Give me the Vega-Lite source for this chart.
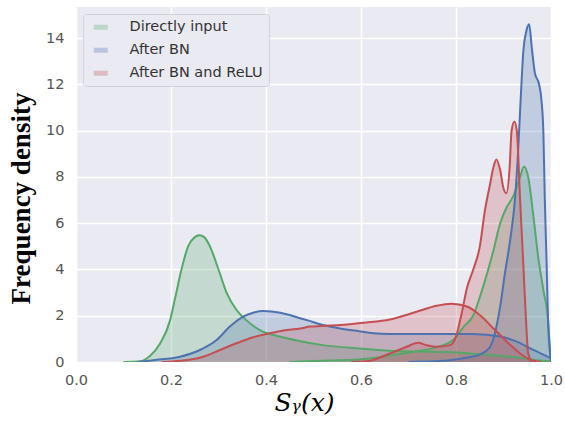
{
  "$schema": "https://vega.github.io/schema/vega-lite/v6.json",
  "width": 475,
  "height": 355,
  "autosize": "none",
  "padding": {"left": 76, "top": 7, "right": 14, "bottom": 59},
  "background": "white",
  "config": {
    "view": {"fill": "#EAEAF2", "stroke": null},
    "axis": {
      "domain": false,
      "ticks": false,
      "gridColor": "white",
      "gridWidth": 1.5,
      "labelFont": "DejaVu Sans",
      "labelFontSize": 14.5,
      "labelColor": "#555555"
    }
  },
  "datasets": {
    "curves": [
      {"series": "Directly input", "curve": "g1", "x": 0.10, "y": 0},
      {"series": "Directly input", "curve": "g1", "x": 0.135, "y": 0.03},
      {"series": "Directly input", "curve": "g1", "x": 0.155, "y": 0.25},
      {"series": "Directly input", "curve": "g1", "x": 0.177, "y": 0.8},
      {"series": "Directly input", "curve": "g1", "x": 0.198, "y": 1.8},
      {"series": "Directly input", "curve": "g1", "x": 0.208, "y": 2.7},
      {"series": "Directly input", "curve": "g1", "x": 0.222, "y": 4.0},
      {"series": "Directly input", "curve": "g1", "x": 0.236, "y": 5.0},
      {"series": "Directly input", "curve": "g1", "x": 0.25, "y": 5.4},
      {"series": "Directly input", "curve": "g1", "x": 0.26, "y": 5.48},
      {"series": "Directly input", "curve": "g1", "x": 0.27, "y": 5.4},
      {"series": "Directly input", "curve": "g1", "x": 0.282, "y": 5.0},
      {"series": "Directly input", "curve": "g1", "x": 0.30, "y": 4.0},
      {"series": "Directly input", "curve": "g1", "x": 0.317, "y": 3.0},
      {"series": "Directly input", "curve": "g1", "x": 0.338, "y": 2.25},
      {"series": "Directly input", "curve": "g1", "x": 0.359, "y": 1.8},
      {"series": "Directly input", "curve": "g1", "x": 0.387, "y": 1.38},
      {"series": "Directly input", "curve": "g1", "x": 0.43, "y": 1.09},
      {"series": "Directly input", "curve": "g1", "x": 0.472, "y": 0.9},
      {"series": "Directly input", "curve": "g1", "x": 0.52, "y": 0.73},
      {"series": "Directly input", "curve": "g1", "x": 0.59, "y": 0.59},
      {"series": "Directly input", "curve": "g1", "x": 0.66, "y": 0.49},
      {"series": "Directly input", "curve": "g1", "x": 0.73, "y": 0.45},
      {"series": "Directly input", "curve": "g1", "x": 0.78, "y": 0.43},
      {"series": "Directly input", "curve": "g1", "x": 0.83, "y": 0.37},
      {"series": "Directly input", "curve": "g1", "x": 0.87, "y": 0.3},
      {"series": "Directly input", "curve": "g1", "x": 0.94, "y": 0.17},
      {"series": "Directly input", "curve": "g1", "x": 0.97, "y": 0.08},
      {"series": "Directly input", "curve": "g1", "x": 1.0, "y": 0.03},
      {"series": "Directly input", "curve": "g2", "x": 0.45, "y": 0},
      {"series": "Directly input", "curve": "g2", "x": 0.5, "y": 0.04},
      {"series": "Directly input", "curve": "g2", "x": 0.6, "y": 0.12},
      {"series": "Directly input", "curve": "g2", "x": 0.682, "y": 0.35},
      {"series": "Directly input", "curve": "g2", "x": 0.72, "y": 0.47},
      {"series": "Directly input", "curve": "g2", "x": 0.752, "y": 0.6},
      {"series": "Directly input", "curve": "g2", "x": 0.794, "y": 0.95},
      {"series": "Directly input", "curve": "g2", "x": 0.815, "y": 1.5},
      {"series": "Directly input", "curve": "g2", "x": 0.836, "y": 2.0},
      {"series": "Directly input", "curve": "g2", "x": 0.857, "y": 3.25},
      {"series": "Directly input", "curve": "g2", "x": 0.879, "y": 4.84},
      {"series": "Directly input", "curve": "g2", "x": 0.893, "y": 6.0},
      {"series": "Directly input", "curve": "g2", "x": 0.907, "y": 6.7},
      {"series": "Directly input", "curve": "g2", "x": 0.92, "y": 7.15},
      {"series": "Directly input", "curve": "g2", "x": 0.935, "y": 8.0},
      {"series": "Directly input", "curve": "g2", "x": 0.943, "y": 8.45},
      {"series": "Directly input", "curve": "g2", "x": 0.952, "y": 8.0},
      {"series": "Directly input", "curve": "g2", "x": 0.963, "y": 6.3},
      {"series": "Directly input", "curve": "g2", "x": 0.973, "y": 4.55},
      {"series": "Directly input", "curve": "g2", "x": 0.984, "y": 3.1},
      {"series": "Directly input", "curve": "g2", "x": 0.994, "y": 1.8},
      {"series": "Directly input", "curve": "g2", "x": 0.997, "y": 0.8},
      {"series": "Directly input", "curve": "g2", "x": 1.0, "y": 0},
      {"series": "After BN", "curve": "b1", "x": 0.13, "y": 0},
      {"series": "After BN", "curve": "b1", "x": 0.163, "y": 0.08},
      {"series": "After BN", "curve": "b1", "x": 0.219, "y": 0.23},
      {"series": "After BN", "curve": "b1", "x": 0.261, "y": 0.52},
      {"series": "After BN", "curve": "b1", "x": 0.296, "y": 0.95},
      {"series": "After BN", "curve": "b1", "x": 0.324, "y": 1.53},
      {"series": "After BN", "curve": "b1", "x": 0.352, "y": 1.96},
      {"series": "After BN", "curve": "b1", "x": 0.373, "y": 2.13},
      {"series": "After BN", "curve": "b1", "x": 0.394, "y": 2.2},
      {"series": "After BN", "curve": "b1", "x": 0.43, "y": 2.13},
      {"series": "After BN", "curve": "b1", "x": 0.45, "y": 2.03},
      {"series": "After BN", "curve": "b1", "x": 0.472, "y": 1.89},
      {"series": "After BN", "curve": "b1", "x": 0.486, "y": 1.81},
      {"series": "After BN", "curve": "b1", "x": 0.52, "y": 1.6},
      {"series": "After BN", "curve": "b1", "x": 0.556, "y": 1.45},
      {"series": "After BN", "curve": "b1", "x": 0.591, "y": 1.35},
      {"series": "After BN", "curve": "b1", "x": 0.626, "y": 1.24},
      {"series": "After BN", "curve": "b1", "x": 0.66, "y": 1.21},
      {"series": "After BN", "curve": "b1", "x": 0.70, "y": 1.21},
      {"series": "After BN", "curve": "b1", "x": 0.77, "y": 1.21},
      {"series": "After BN", "curve": "b1", "x": 0.836, "y": 1.21},
      {"series": "After BN", "curve": "b1", "x": 0.893, "y": 1.1},
      {"series": "After BN", "curve": "b1", "x": 0.928, "y": 0.88},
      {"series": "After BN", "curve": "b1", "x": 0.963, "y": 0.52},
      {"series": "After BN", "curve": "b1", "x": 1.0, "y": 0.16},
      {"series": "After BN", "curve": "b2", "x": 0.70, "y": 0},
      {"series": "After BN", "curve": "b2", "x": 0.75, "y": 0.03},
      {"series": "After BN", "curve": "b2", "x": 0.787, "y": 0.08},
      {"series": "After BN", "curve": "b2", "x": 0.83, "y": 0.22},
      {"series": "After BN", "curve": "b2", "x": 0.85, "y": 0.32},
      {"series": "After BN", "curve": "b2", "x": 0.872, "y": 0.66},
      {"series": "After BN", "curve": "b2", "x": 0.882, "y": 1.24},
      {"series": "After BN", "curve": "b2", "x": 0.893, "y": 2.4},
      {"series": "After BN", "curve": "b2", "x": 0.903, "y": 3.83},
      {"series": "After BN", "curve": "b2", "x": 0.914, "y": 5.27},
      {"series": "After BN", "curve": "b2", "x": 0.924, "y": 7.0},
      {"series": "After BN", "curve": "b2", "x": 0.931, "y": 9.2},
      {"series": "After BN", "curve": "b2", "x": 0.936, "y": 11.3},
      {"series": "After BN", "curve": "b2", "x": 0.942, "y": 13.5},
      {"series": "After BN", "curve": "b2", "x": 0.948, "y": 14.3},
      {"series": "After BN", "curve": "b2", "x": 0.954, "y": 14.6},
      {"series": "After BN", "curve": "b2", "x": 0.96, "y": 13.5},
      {"series": "After BN", "curve": "b2", "x": 0.966, "y": 12.5},
      {"series": "After BN", "curve": "b2", "x": 0.975, "y": 12.0},
      {"series": "After BN", "curve": "b2", "x": 0.98, "y": 11.3},
      {"series": "After BN", "curve": "b2", "x": 0.984, "y": 9.9},
      {"series": "After BN", "curve": "b2", "x": 0.987, "y": 7.0},
      {"series": "After BN", "curve": "b2", "x": 0.991, "y": 4.1},
      {"series": "After BN", "curve": "b2", "x": 0.994, "y": 1.6},
      {"series": "After BN", "curve": "b2", "x": 0.997, "y": 0.6},
      {"series": "After BN", "curve": "b2", "x": 1.0, "y": 0},
      {"series": "After BN and ReLU", "curve": "r1", "x": 0.18, "y": 0},
      {"series": "After BN and ReLU", "curve": "r1", "x": 0.219, "y": 0.05},
      {"series": "After BN and ReLU", "curve": "r1", "x": 0.268, "y": 0.23},
      {"series": "After BN and ReLU", "curve": "r1", "x": 0.303, "y": 0.52},
      {"series": "After BN and ReLU", "curve": "r1", "x": 0.338, "y": 0.81},
      {"series": "After BN and ReLU", "curve": "r1", "x": 0.373, "y": 1.07},
      {"series": "After BN and ReLU", "curve": "r1", "x": 0.408, "y": 1.24},
      {"series": "After BN and ReLU", "curve": "r1", "x": 0.444, "y": 1.38},
      {"series": "After BN and ReLU", "curve": "r1", "x": 0.472, "y": 1.45},
      {"series": "After BN and ReLU", "curve": "r1", "x": 0.493, "y": 1.53},
      {"series": "After BN and ReLU", "curve": "r1", "x": 0.556, "y": 1.6},
      {"series": "After BN and ReLU", "curve": "r1", "x": 0.605, "y": 1.7},
      {"series": "After BN and ReLU", "curve": "r1", "x": 0.661, "y": 1.84},
      {"series": "After BN and ReLU", "curve": "r1", "x": 0.717, "y": 2.17},
      {"series": "After BN and ReLU", "curve": "r1", "x": 0.759, "y": 2.43},
      {"series": "After BN and ReLU", "curve": "r1", "x": 0.79, "y": 2.52},
      {"series": "After BN and ReLU", "curve": "r1", "x": 0.823, "y": 2.4},
      {"series": "After BN and ReLU", "curve": "r1", "x": 0.85, "y": 2.03},
      {"series": "After BN and ReLU", "curve": "r1", "x": 0.879, "y": 1.45},
      {"series": "After BN and ReLU", "curve": "r1", "x": 0.907, "y": 0.88},
      {"series": "After BN and ReLU", "curve": "r1", "x": 0.935, "y": 0.37},
      {"series": "After BN and ReLU", "curve": "r1", "x": 0.956, "y": 0.1},
      {"series": "After BN and ReLU", "curve": "r1", "x": 0.98, "y": 0},
      {"series": "After BN and ReLU", "curve": "r2", "x": 0.58, "y": 0},
      {"series": "After BN and ReLU", "curve": "r2", "x": 0.612, "y": 0.03},
      {"series": "After BN and ReLU", "curve": "r2", "x": 0.661, "y": 0.37},
      {"series": "After BN and ReLU", "curve": "r2", "x": 0.696, "y": 0.66},
      {"series": "After BN and ReLU", "curve": "r2", "x": 0.72, "y": 0.83},
      {"series": "After BN and ReLU", "curve": "r2", "x": 0.738, "y": 0.73},
      {"series": "After BN and ReLU", "curve": "r2", "x": 0.759, "y": 0.66},
      {"series": "After BN and ReLU", "curve": "r2", "x": 0.787, "y": 0.73},
      {"series": "After BN and ReLU", "curve": "r2", "x": 0.80, "y": 1.1},
      {"series": "After BN and ReLU", "curve": "r2", "x": 0.812, "y": 2.1},
      {"series": "After BN and ReLU", "curve": "r2", "x": 0.823, "y": 3.2},
      {"series": "After BN and ReLU", "curve": "r2", "x": 0.836, "y": 3.98},
      {"series": "After BN and ReLU", "curve": "r2", "x": 0.85, "y": 4.98},
      {"series": "After BN and ReLU", "curve": "r2", "x": 0.861, "y": 6.57},
      {"series": "After BN and ReLU", "curve": "r2", "x": 0.872, "y": 7.72},
      {"series": "After BN and ReLU", "curve": "r2", "x": 0.879, "y": 8.44},
      {"series": "After BN and ReLU", "curve": "r2", "x": 0.885, "y": 8.76},
      {"series": "After BN and ReLU", "curve": "r2", "x": 0.893, "y": 8.3},
      {"series": "After BN and ReLU", "curve": "r2", "x": 0.90, "y": 7.5},
      {"series": "After BN and ReLU", "curve": "r2", "x": 0.906, "y": 7.3},
      {"series": "After BN and ReLU", "curve": "r2", "x": 0.913, "y": 8.44},
      {"series": "After BN and ReLU", "curve": "r2", "x": 0.917, "y": 10.0},
      {"series": "After BN and ReLU", "curve": "r2", "x": 0.923, "y": 10.4},
      {"series": "After BN and ReLU", "curve": "r2", "x": 0.928, "y": 10.0},
      {"series": "After BN and ReLU", "curve": "r2", "x": 0.935, "y": 7.0},
      {"series": "After BN and ReLU", "curve": "r2", "x": 0.942, "y": 4.1},
      {"series": "After BN and ReLU", "curve": "r2", "x": 0.947, "y": 1.96},
      {"series": "After BN and ReLU", "curve": "r2", "x": 0.952, "y": 0.37},
      {"series": "After BN and ReLU", "curve": "r2", "x": 0.96, "y": 0}
    ]
  },
  "data": {"name": "curves"},
  "encoding": {
    "x": {
      "field": "x",
      "type": "quantitative",
      "scale": {"domain": [0, 1], "nice": false, "zero": false},
      "axis": {
        "values": [0, 0.2, 0.4, 0.6, 0.8, 1.0],
        "format": ".1f",
        "labelPadding": 11,
        "labelFlush": false,
        "labelOverlap": false,
        "title": "Sᵧ(x)",
        "titleFont": "DejaVu Serif",
        "titleFontStyle": "italic",
        "titleFontWeight": "normal",
        "titleFontSize": 25,
        "titleColor": "black",
        "titlePadding": 4,
        "titleX": 228
      }
    },
    "y": {
      "field": "y",
      "type": "quantitative",
      "stack": null,
      "scale": {"domain": [0, 15.35], "nice": false},
      "axis": {
        "values": [0, 2, 4, 6, 8, 10, 12, 14],
        "labelPadding": 12,
        "title": "Frequency density",
        "titleFont": "Liberation Serif",
        "titleFontWeight": "bold",
        "titleFontSize": 27,
        "titleColor": "black",
        "titlePadding": 10,
        "titleY": 191
      }
    },
    "detail": {"field": "curve"}
  },
  "layer": [
    {
      "mark": {"type": "area", "fillOpacity": 0.25, "clip": true, "interpolate": "monotone"},
      "encoding": {
        "color": {
          "field": "series",
          "type": "nominal",
          "scale": {
            "domain": ["Directly input", "After BN", "After BN and ReLU"],
            "range": ["#55A868", "#4C72B0", "#C44E52"]
          },
          "legend": {
            "orient": "none",
            "legendX": 7,
            "legendY": 7,
            "title": null,
            "symbolType": "M-0.5,-0.5H2.3V0.5H-0.5Z",
            "symbolSize": 100,
            "symbolOpacity": 0.3,
            "symbolStrokeWidth": 0,
            "labelFont": "DejaVu Sans",
            "labelFontSize": 14.5,
            "labelColor": "#333333",
            "labelOffset": 26,
            "rowPadding": 8,
            "padding": 6,
            "fillColor": "#EAEAF2",
            "strokeColor": "#d3d3db",
            "cornerRadius": 3
          }
        }
      }
    },
    {
      "mark": {"type": "line", "strokeWidth": 2, "clip": true, "interpolate": "monotone"},
      "encoding": {
        "color": {"field": "series", "type": "nominal", "legend": null}
      }
    }
  ]
}
